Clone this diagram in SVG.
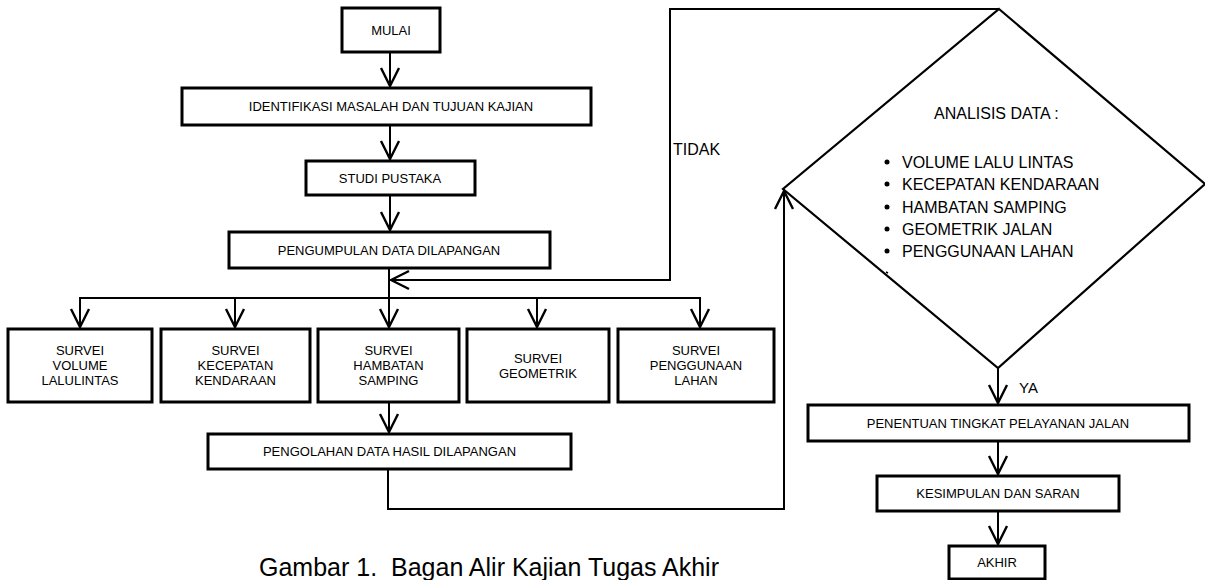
<svg xmlns="http://www.w3.org/2000/svg" width="1205" height="580" viewBox="0 0 1205 580">
<style>
.box{fill:#fff;stroke:#000;stroke-width:3}
.t{font-family:"Liberation Sans",Arial,sans-serif;font-size:13px;fill:#000;text-anchor:middle}
.d{font-family:"Liberation Sans",Arial,sans-serif;font-size:16px;fill:#000}
.c{fill:none;stroke:#000;stroke-width:2}
</style>
<defs>
<marker id="ah" viewBox="-20 -11 22 22" refX="0" refY="0" markerWidth="22" markerHeight="22" markerUnits="userSpaceOnUse" orient="auto">
<path d="M-18,-9 L0,0 L-18,9" fill="none" stroke="#000" stroke-width="2.4"/>
</marker>
</defs>
<rect width="1205" height="580" fill="#fff"/>

<g id="connectors">
<line class="c" x1="390" y1="52" x2="390" y2="86" marker-end="url(#ah)"/>
<line class="c" x1="390" y1="125" x2="390" y2="159" marker-end="url(#ah)"/>
<line class="c" x1="390" y1="195" x2="390" y2="230" marker-end="url(#ah)"/>
<line class="c" x1="389" y1="268" x2="389" y2="327" marker-end="url(#ah)"/>
<line class="c" x1="79" y1="298" x2="701" y2="298"/>
<line class="c" x1="80" y1="298" x2="80" y2="327" marker-end="url(#ah)"/>
<line class="c" x1="235" y1="298" x2="235" y2="327" marker-end="url(#ah)"/>
<line class="c" x1="537" y1="298" x2="537" y2="327" marker-end="url(#ah)"/>
<line class="c" x1="700" y1="298" x2="700" y2="327" marker-end="url(#ah)"/>
<line class="c" x1="389" y1="402" x2="389" y2="432" marker-end="url(#ah)"/>
<polyline class="c" points="388,469 388,509 784,509 784,191" marker-end="url(#ah)"/>
<polyline class="c" points="999,9 670,9 670,280 391,280" marker-end="url(#ah)"/>
<line class="c" x1="998" y1="368" x2="998" y2="403" marker-end="url(#ah)"/>
<line class="c" x1="998" y1="441" x2="998" y2="474" marker-end="url(#ah)"/>
<line class="c" x1="998" y1="511" x2="998" y2="544" marker-end="url(#ah)"/>
<text class="d" x="673" y="155">TIDAK</text>
<text class="d" x="1019" y="393" style="font-size:15px">YA</text>
</g>

<g id="mulai"><rect class="box" x="342" y="8" width="98" height="44"/><text class="t" x="391" y="35">MULAI</text></g>
<g id="identifikasi"><rect class="box" x="182" y="88" width="409" height="37"/><text class="t" x="391" y="111">IDENTIFIKASI MASALAH DAN TUJUAN KAJIAN</text></g>
<g id="studi"><rect class="box" x="306" y="161" width="169" height="34"/><text class="t" x="390" y="183">STUDI PUSTAKA</text></g>
<g id="pengumpulan"><rect class="box" x="229" y="232" width="321" height="36"/><text class="t" x="389" y="255">PENGUMPULAN DATA DILAPANGAN</text></g>

<g id="survei-volume"><rect class="box" x="8" y="329" width="144" height="73"/><text class="t" x="80" y="355">SURVEI</text><text class="t" x="80" y="370">VOLUME</text><text class="t" x="80" y="385">LALULINTAS</text></g>
<g id="survei-kecepatan"><rect class="box" x="161" y="329" width="149" height="73"/><text class="t" x="235.5" y="355">SURVEI</text><text class="t" x="235.5" y="370">KECEPATAN</text><text class="t" x="235.5" y="385">KENDARAAN</text></g>
<g id="survei-hambatan"><rect class="box" x="318" y="329" width="141" height="73"/><text class="t" x="388.5" y="355">SURVEI</text><text class="t" x="388.5" y="370">HAMBATAN</text><text class="t" x="388.5" y="385">SAMPING</text></g>
<g id="survei-geometrik"><rect class="box" x="467" y="329" width="142" height="73"/><text class="t" x="538" y="363">SURVEI</text><text class="t" x="538" y="378">GEOMETRIK</text></g>
<g id="survei-penggunaan"><rect class="box" x="618" y="329" width="156" height="73"/><text class="t" x="696" y="355">SURVEI</text><text class="t" x="696" y="370">PENGGUNAAN</text><text class="t" x="696" y="385">LAHAN</text></g>

<g id="pengolahan"><rect class="box" x="208" y="434" width="363" height="35"/><text class="t" x="389.5" y="456">PENGOLAHAN DATA HASIL DILAPANGAN</text></g>

<g id="analisis">
<polygon points="999,9 1205,184 998,368 783,189" fill="#fff" stroke="#000" stroke-width="2.2"/>
<text class="d" x="934" y="119">ANALISIS DATA :</text>
<circle cx="887" cy="162" r="2.5"/><text class="d" x="902" y="168">VOLUME LALU LINTAS</text>
<circle cx="887" cy="184" r="2.5"/><text class="d" x="902" y="190">KECEPATAN KENDARAAN</text>
<circle cx="887" cy="207" r="2.5"/><text class="d" x="902" y="213">HAMBATAN SAMPING</text>
<circle cx="887" cy="229" r="2.5"/><text class="d" x="902" y="235">GEOMETRIK JALAN</text>
<circle cx="887" cy="251" r="2.5"/><text class="d" x="902" y="257">PENGGUNAAN LAHAN</text>
<line x1="886" y1="272" x2="888" y2="273" stroke="#000" stroke-width="1.5"/>
</g>

<g id="penentuan"><rect class="box" x="808" y="405" width="381" height="36"/><text class="t" x="998" y="428">PENENTUAN TINGKAT PELAYANAN JALAN</text></g>
<g id="kesimpulan"><rect class="box" x="877" y="476" width="242" height="35"/><text class="t" x="998" y="498">KESIMPULAN DAN SARAN</text></g>
<g id="akhir"><rect class="box" x="949" y="546" width="96" height="33"/><text class="t" x="997" y="567">AKHIR</text></g>

<text x="259" y="576" style="font-family:'Liberation Sans',Arial,sans-serif;font-size:25px;fill:#000">Gambar 1.&#160; Bagan Alir Kajian Tugas Akhir</text>
</svg>
